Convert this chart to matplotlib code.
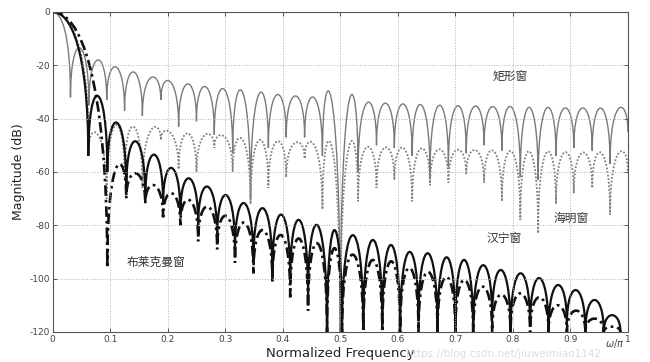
import matplotlib
matplotlib.use("Agg")
import matplotlib.pyplot as plt
from matplotlib.path import Path
from matplotlib.patches import PathPatch

plt.rcParams['axes.unicode_minus'] = False

# window spectra: null positions, null depths (dB), sidelobe peaks (dB)
rect_x = [0.031, 0.063, 0.094, 0.125, 0.156, 0.188, 0.219, 0.25, 0.281, 0.313, 0.344,
          0.375, 0.406, 0.438, 0.469, 0.5, 0.531, 0.563, 0.594, 0.625, 0.656, 0.688,
          0.719, 0.75, 0.781, 0.813, 0.844, 0.875, 0.906, 0.938, 0.969, 1.0]
rect_nulls = [-32, -35, -33, -37, -39, -33, -43, -41, -46, -53, -70, -51, -47, -47, -54, -120,
              -60, -50, -51, -54, -62, -58, -53, -50, -52, -62, -63, -54, -51, -52, -57, -45]
rect_peaks = [-13.5, -18, -20.6, -22.5, -24.5, -26, -27, -28, -28.8, -29.5, -30.5, -31,
              -31.5, -32, -32.5, -33.2, -34, -34.2, -34.5, -34.8, -35, -35.2, -35.3, -35.5,
              -35.6, -35.8, -35.9, -36, -36, -36.1, -36.1]

hamm_x = rect_x[1:]
hamm_nulls = [-51, -70, -62, -66, -48, -59, -60, -51, -60, -72, -66, -62, -55, -74, -120, -71,
              -66, -63, -71, -65, -64, -61, -64, -71, -78, -83, -72, -68, -66, -76, -60]
hamm_peaks = [-46, -42.5, -43, -44, -45, -45.5, -46, -46.5, -47.5, -48, -48.5, -49, -49.5,
              -50, -50.3, -50.6, -50.8, -51, -51.2, -51.5, -51.7, -51.8, -52, -52.2, -52.3,
              -52.5, -52.6, -52.7, -52.8, -52.8]

hann_x = [0.062, 0.095, 0.128, 0.161, 0.192, 0.222, 0.253, 0.286, 0.317, 0.349, 0.382, 0.413,
          0.444, 0.477, 0.503, 0.54, 0.573, 0.604, 0.636, 0.669, 0.70, 0.731, 0.764, 0.796,
          0.83, 0.862, 0.894, 0.926, 0.958, 0.987]
hann_nulls = [-54, -60, -66, -70, -72, -76, -80, -85, -89, -94, -98, -101, -107, -120, -120,
              -118, -117, -120, -116, -120, -118, -120, -115, -120, -118, -120, -117, -120,
              -120, -120]
hann_peaks = [-31.5, -41.5, -48.5, -53.5, -58.5, -62.4, -65.5, -68.7, -71.7, -73.6, -76, -78,
              -80, -81.8, -83.7, -85.5, -87.4, -90, -90.5, -92, -93, -95, -96.8, -98, -99.8,
              -102.4, -104.3, -108, -113.7]

black_x = hann_x[1:]
black_nulls = [-96, -70, -72, -77, -80, -86, -89, -94, -98, -101, -107, -112, -120, -120,
               -120, -120, -120, -120, -120, -120, -120, -120, -120, -120, -120, -120, -120,
               -120, -120]
black_peaks = [-58, -60.5, -65, -68, -70.5, -73, -76.5, -79, -81.8, -83.7, -85, -86.8, -88.6,
               -91, -93, -93.5, -96, -97.5, -99.4, -100.5, -103, -106, -105.5, -107, -110,
               -112, -115, -118]

xticks = [0, 0.1, 0.2, 0.3, 0.4, 0.5, 0.6, 0.7, 0.8, 0.9, 1]
xticklabels = ['0', '0.1', '0.2', '0.3', '0.4', '0.5', '0.6', '0.7', '0.8', '0.9', '1']
yticks = [0, -20, -40, -60, -80, -100, -120]
yticklabels = ['0', '-20', '-40', '-60', '-80', '-100', '-120']


def window_path(xs, nulls, peaks):
    # main lobe from 0 dB down to first null, then one arch per sidelobe
    verts = [(0, 0), (0.5 * xs[0], 0), (xs[0], 0.25 * nulls[0]), (xs[0], nulls[0])]
    codes = [Path.MOVETO, Path.CURVE4, Path.CURVE4, Path.CURVE4]
    for i in range(len(peaks)):
        c = (8 * peaks[i] - nulls[i] - nulls[i + 1]) / 6.0
        verts += [(xs[i], c), (xs[i + 1], c), (xs[i + 1], nulls[i + 1])]
        codes += [Path.CURVE4] * 3
    return Path(verts, codes)


fig = plt.figure(figsize=(6.5, 3.62), dpi=100)
ax = fig.add_axes([0.081, 0.083, 0.885, 0.884])

ax.add_patch(PathPatch(window_path(rect_x, rect_nulls, rect_peaks), fill=False,
                       edgecolor='#7a7a7a', lw=1.0))
ax.add_patch(PathPatch(window_path(hamm_x, hamm_nulls, hamm_peaks), fill=False,
                       edgecolor='#808080', lw=1.3, linestyle=(0, (1, 1))))
ax.add_patch(PathPatch(window_path(hann_x, hann_nulls, hann_peaks), fill=False,
                       edgecolor='#111111', lw=1.6))
ax.add_patch(PathPatch(window_path(black_x, black_nulls, black_peaks), fill=False,
                       edgecolor='#111111', lw=1.9, linestyle=(0, (4, 1.5, 1, 1.5))))

ax.set_xlim(0, 1)
ax.set_ylim(-120, 0)
ax.set_xticks(xticks)
ax.set_xticklabels(xticklabels)
ax.set_yticks(yticks)
ax.set_yticklabels(yticklabels)
ax.tick_params(direction='in', length=3, width=0.7, top=True, right=True,
               labelsize=6.5, labelcolor='#444444', colors='#555555', pad=2)
ax.grid(True, linestyle=':', color='#b0b0b0', lw=0.7)
for s in ax.spines.values():
    s.set_color('#555555')
    s.set_linewidth(0.8)

ax.set_xlabel('Normalized Frequency', fontsize=9.5, color='#222222', labelpad=2)
ax.set_ylabel('Magnitude (dB)', fontsize=9, color='#222222', labelpad=3)

cjk = ['Noto Sans CJK SC', 'DejaVu Sans']
ax.text(0.796, -24, '矩形窗', family=cjk, fontsize=8.5, color='#333333', ha='center', va='center')
ax.text(0.902, -77.3, '海明窗', family=cjk, fontsize=8.5, color='#333333', ha='center', va='center')
ax.text(0.784, -84.8, '汉宁窗', family=cjk, fontsize=8.5, color='#333333', ha='center', va='center')
ax.text(0.18, -93.8, '布莱克曼窗', family=cjk, fontsize=8.5, color='#333333', ha='center', va='center')

fig.text(0.925, 0.022, 'https://blog.csdn.net/jiuweimiao1142', fontsize=7.5,
         color='#dcdcdc', ha='right', va='center')
fig.text(0.945, 0.05, r'$\omega/\pi$', fontsize=7, color='#444444', ha='center', va='center')

fig.savefig('out.png', dpi=100)
